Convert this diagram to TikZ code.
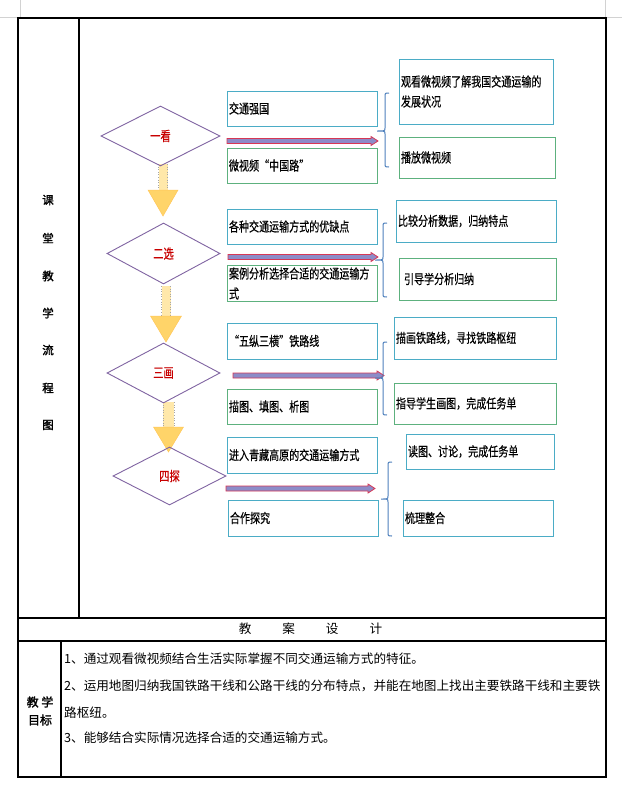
\documentclass[tikz,border=0pt]{standalone}
\usepackage{fontspec}
\usetikzlibrary{shapes.geometric}
\newfontfamily\cjk{Noto Sans CJK SC}
\newfontfamily\cjkn[FakeStretch=0.76,FakeBold=0.4]{Noto Sans CJK SC}
\newfontfamily\cjkb[FakeBold=1.8]{Noto Sans CJK SC}
\newcommand\bxfont{\cjkn\fontsize{13.2}{20}\selectfont}
\newcommand\btfont{\cjk\fontsize{12.6}{15}\selectfont}
\definecolor{boxblue}{RGB}{75,172,198}
\definecolor{boxgreen}{RGB}{93,177,126}
\definecolor{bracecol}{RGB}{79,129,189}
\definecolor{dpurple}{RGB}{128,100,162}
\definecolor{dred}{RGB}{200,0,0}
\definecolor{harrfill}{RGB}{140,140,200}
\definecolor{harrdraw}{RGB}{215,55,85}
\definecolor{yhead}{RGB}{255,212,105}
\definecolor{yshaft}{RGB}{255,232,170}
\newcommand\harr[3]{%
  \filldraw[fill=harrfill,draw=harrdraw,line width=0.8pt]
    (#1,#3-2.5) -- (#2-7,#3-2.5) -- (#2-7,#3-4.5) -- (#2,#3) -- (#2-7,#3+4.5)
    -- (#2-7,#3+2.5) -- (#1,#3+2.5) -- cycle;}
% cx, ytop, yneck, ytip, shaft half, head half
\newcommand\yarr[6]{%
  \fill[yshaft] (#1-#5,#2) rectangle (#1+#5,#3);
  \draw[gray!70,dotted,line width=0.6pt] (#1-#5,#2) -- (#1-#5,#3) (#1+#5,#2) -- (#1+#5,#3);
  \filldraw[fill=yhead,draw=yhead!85!orange,line width=0.5pt]
    (#1-#6,#3) -- (#1+#6,#3) -- (#1,#4) -- cycle;}
% x, ytop, ymid, ybot, tip x
\newcommand\bracex[5]{%
  \draw[bracecol,line width=1pt] (#1+4,#2) .. controls (#1,#2) .. (#1,#2+4)
    -- (#1,#3-3) .. controls (#1,#3) .. (#5,#3) .. controls (#1,#3) .. (#1,#3+3)
    -- (#1,#4-4) .. controls (#1,#4) .. (#1+4,#4);}
\begin{document}
\begin{tikzpicture}[x=1pt,y=-1pt,
  tline/.style={line width=1.1pt,black},
  bbox/.style={draw=boxblue,line width=1pt,rectangle,inner sep=2pt,align=left,font=\bxfont},
  gbox/.style={bbox,draw=boxgreen},
  dia/.style={shape=diamond,draw=dpurple,line width=0.9pt,inner sep=0pt,aspect=2,text=dred,font=\cjkn\fontsize{13.5}{13.5}\selectfont},
  side/.style={font=\cjkb\fontsize{11.5}{12}\selectfont},
  btxt/.style={anchor=west,inner sep=0pt,font=\btfont}]
\useasboundingbox (0,0) rectangle (622,811);
\fill[white] (0,0) rectangle (622,811);
% page corner marks
\draw[gray!35,line width=0.8pt] (20,0) -- (20,17) -- (0,17);
\draw[gray!35,line width=0.8pt] (605,0) -- (605,17) -- (622,17);
% table
\draw[tline] (18,18) rectangle (606,777);
\draw[tline] (79,18) -- (79,618);
\draw[tline] (18,618) -- (606,618);
\draw[tline] (18,641) -- (606,641);
\draw[tline] (61,641) -- (61,777);
% left column
\node[side] (s1) at (48,200) {课};
\node[side] (s2) at (48,238) {堂};
\node[side] (s3) at (48,276) {教};
\node[side] (s4) at (48,313) {学};
\node[side] (s5) at (48,350) {流};
\node[side] (s6) at (48,388) {程};
\node[side] (s7) at (48,425) {图};
% yellow arrows
\yarr{163}{164}{190}{216}{4.5}{15}
\yarr{166}{286}{316}{342}{4.5}{15.5}
\yarr{168.5}{402}{427}{452}{5.5}{15}
% diamonds
\node[dia,minimum width=119,minimum height=60] (d1) at (160.5,136) {\raisebox{-2pt}{一看}};
\node[dia,minimum width=113,minimum height=61] (d2) at (163.5,253.5) {\raisebox{-2pt}{二选}};
\node[dia,minimum width=113,minimum height=60] (d3) at (163.5,373) {\raisebox{-2pt}{三画}};
\node[dia,minimum width=113,minimum height=58] (d4) at (169.5,476) {\raisebox{-1pt}{四探}};
% left boxes
\node[bbox,text width=146pt,minimum height=35] (a1) at (302,108.5) {交通强国};
\node[gbox,text width=146pt,minimum height=35] (a2) at (302,165.5) {微视频“中国路”};
\node[bbox,text width=146pt,minimum height=35] (b1) at (302,226.5) {各种交通运输方式的优缺点};
\node[gbox,text width=146pt,minimum height=35] (b2) at (302,283.5) {案例分析选择合适的交通运输方\\式};
\node[bbox,text width=146pt,minimum height=36] (c1) at (302,341) {“五纵三横”铁路线};
\node[gbox,text width=146pt,minimum height=35] (c2) at (302,406.5) {描图、填图、析图};
\node[bbox,text width=146pt,minimum height=36] (e1) at (302,455) {进入青藏高原的交通运输方式};
\node[bbox,text width=146pt,minimum height=36] (e2) at (303,518) {合作探究};
% horizontal arrows
\harr{227}{378}{141}
\harr{228}{378}{257}
\harr{233}{384}{375.5}
\harr{226}{375}{488.5}
% braces
\bracex{385}{93}{131}{167}{377}
\bracex{383}{223}{260}{297}{375}
\bracex{383}{342}{378}{415}{375}
\bracex{388}{462}{499}{536}{381}
% right boxes
\node[bbox,text width=150pt,minimum height=65] (r1) at (476,91.5) {观看微视频了解我国交通运输的\\发展状况};
\node[gbox,text width=152pt,minimum height=41] (r2) at (477,157.5) {播放微视频};
\node[bbox,text width=156pt,minimum height=42] (r3) at (476,221) {比较分析数据，归纳特点};
\node[gbox,text width=153pt,minimum height=42] (r4) at (477.5,279) {\hspace{3pt}引导学分析归纳};
\node[bbox,text width=158pt,minimum height=42] (r5) at (475,338) {描画铁路线，寻找铁路枢纽};
\node[gbox,text width=158pt,minimum height=41] (r6) at (475,403.5) {指导学生画图，完成任务单};
\node[bbox,text width=144pt,minimum height=35] (r7) at (480,451.5) {读图、讨论，完成任务单};
\node[bbox,text width=146pt,minimum height=36] (r8) at (478,518) {梳理整合};
% lower section
\node[font=\btfont] (hd) at (310.5,629) {教\hspace{31pt}案\hspace{31pt}设\hspace{31pt}计};
\node[font=\cjkb\fontsize{12}{12}\selectfont] (g1) at (40,702) {教 学};
\node[font=\cjkb\fontsize{12}{12}\selectfont] (g2) at (40,720) {目标};
\node[btxt] (t1) at (64,659) {1、通过观看微视频结合生活实际掌握不同交通运输方式的特征。};
\node[btxt] (t2) at (64,686) {2、运用地图归纳我国铁路干线和公路干线的分布特点，并能在地图上找出主要铁路干线和主要铁};
\node[btxt] (t3) at (64,713) {路枢纽。};
\node[btxt] (t4) at (64,738) {3、能够结合实际情况选择合适的交通运输方式。};
\end{tikzpicture}
\end{document}
